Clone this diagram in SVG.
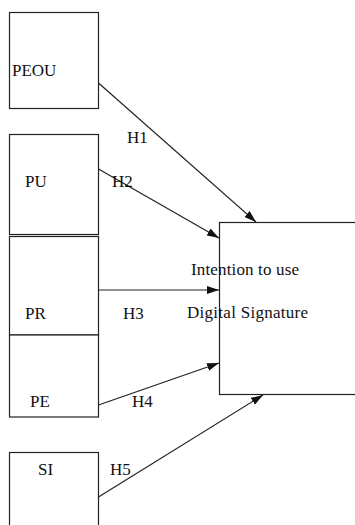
<svg xmlns="http://www.w3.org/2000/svg" width="355" height="525" viewBox="0 0 355 525">
<defs>
<style>
.box{fill:#fff;stroke:#222;stroke-width:1.2}
text{font-family:'Liberation Serif','Times New Roman',serif;font-size:17px;fill:#111}
.c{stroke:#222;stroke-width:1.2;fill:none;marker-end:url(#ah)}
</style>
<marker id="ah" viewBox="0 0 12 8" refX="12" refY="4" markerWidth="12" markerHeight="8" markerUnits="userSpaceOnUse" orient="auto">
<path d="M0,0 L12,4 L0,8 Z" fill="#111"/>
</marker>
</defs>
<rect width="355" height="525" fill="#fff"/>
<g id="peou"><rect class="box" x="9.5" y="12.5" width="89" height="96"/><text x="12" y="76">PEOU</text></g>
<g id="pu"><rect class="box" x="9.5" y="134.5" width="89" height="100"/><text x="25" y="187">PU</text></g>
<g id="pr"><rect class="box" x="9.5" y="236.5" width="89" height="98.5"/><text x="25" y="319">PR</text></g>
<g id="pe"><rect class="box" x="9.5" y="335" width="89" height="82"/><text x="30" y="407">PE</text></g>
<g id="si"><rect class="box" x="9.5" y="452.5" width="89" height="80"/><text x="38" y="475">SI</text></g>
<g id="intention"><rect class="box" x="219.5" y="222.5" width="140" height="172"/><text x="191" y="275" textLength="108">Intention to use</text><text x="187" y="318" textLength="121">Digital Signature</text></g>
<g id="connectors">
<line class="c" x1="98.5" y1="83" x2="256" y2="222"/>
<line class="c" x1="98.5" y1="169" x2="219" y2="238"/>
<line class="c" x1="98.5" y1="290" x2="219" y2="290"/>
<line class="c" x1="98.5" y1="405" x2="219" y2="363"/>
<line class="c" x1="98.5" y1="497" x2="263" y2="395"/>
<text x="127" y="143">H1</text>
<text x="112" y="187">H2</text>
<text x="123" y="319">H3</text>
<text x="132" y="407">H4</text>
<text x="110" y="475">H5</text>
</g>
</svg>
